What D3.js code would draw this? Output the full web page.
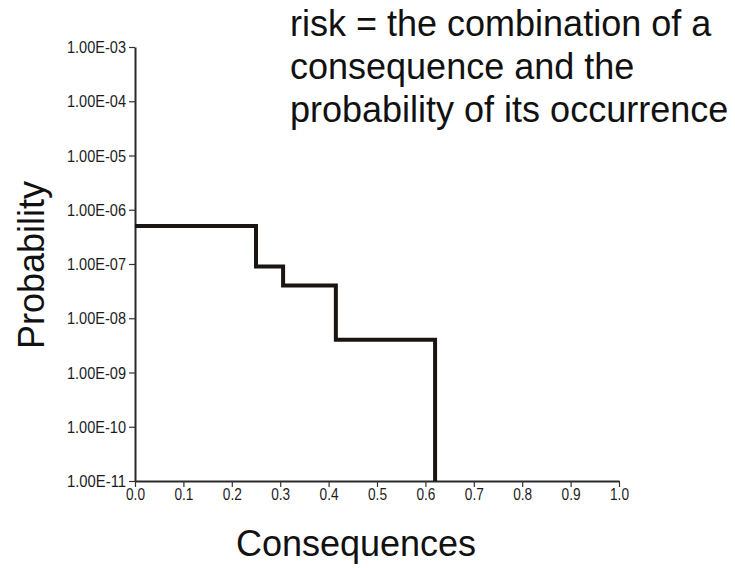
<!DOCTYPE html>
<html>
<head>
<meta charset="utf-8">
<script src="https://cdn.jsdelivr.net/npm/d3@7"></script>
<style>
  body { margin: 0; background: #fff; }
  svg { display: block; font-family: "Liberation Sans", Arial, sans-serif; }
</style>
</head>
<body>
<svg id="chart" width="735" height="568"></svg>
<script>
// step curve: consequence where each level starts, and its probability
const consequences = [0.0, 0.25, 0.306, 0.415, 0.62];
const probabilities = [5e-7, 9e-8, 4e-8, 4e-9, 1e-11];

const yTicks = [1e-3, 1e-4, 1e-5, 1e-6, 1e-7, 1e-8, 1e-9, 1e-10, 1e-11];
const xTicks = [0, 0.1, 0.2, 0.3, 0.4, 0.5, 0.6, 0.7, 0.8, 0.9, 1.0];

const titleLines = ["risk = the combination of a", "consequence and the", "probability of its occurrence"];

const svg = d3.select('#chart');

const x = d3.scaleLinear().domain([0, 1]).range([135, 619]);
const y = d3.scaleLog().domain([1e-11, 1e-3]).range([481, 47]);

// format like 1.00E-06
const sci = v => {
  const e = Math.round(Math.log10(v));
  const m = v / Math.pow(10, e);
  const es = (e < 0 ? '-' : '+') + String(Math.abs(e)).padStart(2, '0');
  return m.toFixed(2) + 'E' + es;
};

const yAxis = d3.axisLeft(y).tickValues(yTicks).tickFormat(sci).tickSize(6).tickSizeOuter(0);
const xAxis = d3.axisBottom(x).tickValues(xTicks).tickFormat(d3.format('.1f')).tickSize(6).tickSizeOuter(0);

const gy = svg.append('g').attr('transform', 'translate(135,0)').call(yAxis);
const gx = svg.append('g').attr('transform', 'translate(0,481)').call(xAxis);

[gx, gy].forEach(g => {
  g.attr('font-size', 16).attr('font-family', '"Liberation Sans", Arial, sans-serif');
  g.select('.domain').attr('stroke', '#2a2a2a').attr('stroke-width', 2);
  g.selectAll('.tick line').attr('stroke', '#333').attr('stroke-width', 1.2);
  g.selectAll('.tick text').attr('fill', '#1c1c1c').attr('font-size', 16);
});
// the source font is a bit condensed
gy.selectAll('.tick text').attr('x', -9).attr('dy', '0.35em').attr('textLength', 59).attr('lengthAdjust', 'spacingAndGlyphs');
gx.selectAll('.tick text').attr('y', 8).attr('dy', '0.71em').attr('textLength', 19).attr('lengthAdjust', 'spacingAndGlyphs');

// step line
const pts = consequences.map((c, i) => [c, probabilities[i]]);
const line = d3.line()
  .x(d => x(d[0]))
  .y(d => y(d[1]))
  .curve(d3.curveStepAfter);

svg.append('path')
  .datum(pts)
  .attr('d', line)
  .attr('fill', 'none')
  .attr('stroke', '#1a1512')
  .attr('stroke-width', 4)
  .attr('stroke-linejoin', 'miter');

// axis titles
svg.append('text')
  .attr('transform', 'translate(44,265) rotate(-90)')
  .attr('text-anchor', 'middle')
  .style('font-size', '36px')
  .attr('fill', '#111')
  .text('Probability');

svg.append('text')
  .attr('x', 356).attr('y', 556)
  .attr('text-anchor', 'middle')
  .style('font-size', '36px')
  .attr('fill', '#111')
  .text('Consequences');

// definition text
svg.append('g').selectAll('text').data(titleLines).enter().append('text')
  .attr('x', 290)
  .attr('y', (d, i) => 36 + i * 43)
  .style('font-size', '36px')
  .attr('fill', '#111')
  .text(d => d);
</script>
</body>
</html>
